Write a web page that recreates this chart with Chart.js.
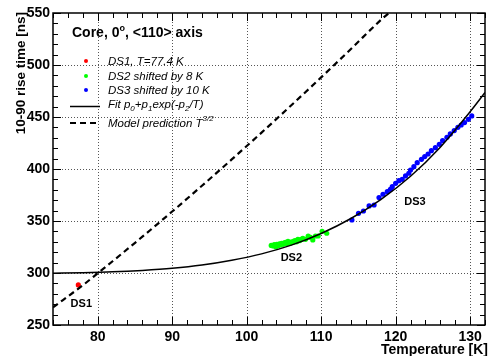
<!DOCTYPE html>
<html><head><meta charset="utf-8">
<script src="https://cdn.jsdelivr.net/npm/chart.js@4.4.1/dist/chart.umd.min.js"></script>
<style>html,body{margin:0;padding:0;background:#fff}#wrap{width:489px;height:356px}</style>
</head><body><div id="wrap"><canvas id="c" width="489" height="356"></canvas></div>
<script>
// ---- data ----
const ds1T = [77.4];
const ds1V = [288.5];
const ds2T = [103.3,103.55,103.7,103.91,104.05,104.22,104.4,104.53,104.7,104.88,105.05,105.24,105.4,105.55,105.7,105.86,106.05,106.22,106.4,106.57,106.7,106.88,107.05,107.2,107.4,107.55,107.9,108.26,108.57,108.88,109.24,109.6,110.13,110.75];
const ds2V = [326.5,326.0,327.2,325.3,327.5,326.3,328.0,327.0,328.5,327.6,329.0,329.5,328.2,330.5,329.0,328.6,330.0,329.5,330.8,331.1,330.0,332.4,331.0,331.8,332.5,333.4,332.4,335.6,334.3,331.8,335.6,335.6,340.1,338.2];
const ds3T = [114.13,115.02,115.68,116.44,117.11,117.77,118.31,118.88,119.3,119.55,120.0,120.44,120.88,121.33,121.77,122.0,122.45,122.9,123.47,123.91,124.36,124.8,125.34,125.87,126.31,126.89,127.34,127.87,128.36,128.8,129.25,129.78,130.22];
const ds3V = [351.0,357.4,359.6,364.5,365.4,372.5,375.7,378.2,380.5,383.0,386.2,388.8,390.1,393.3,395.9,399.0,402.2,406.1,409.3,411.9,414.4,417.6,420.5,423.7,427.3,430.5,433.7,436.9,440.1,442.3,444.6,447.8,451.0];
const fitT = [74,78,82,86,90,94,98,102,106,110,114,118,122,126,130,132];
const fitV = [299.8,300.3,301.1,302.5,304.5,307.6,312.2,318.4,326.8,338.0,352.4,370.5,393.0,421.0,455.0,473.5];
const modelT = [74,78,80,82,86,90,94,98,102,106,110,114,118,119.1];
const modelV = [267,288.2,299.7,311.3,334.9,359.1,383.9,409.2,435.0,461.3,488.1,515.4,543.2,550];
const labelNames = ["DS1","DS2","DS3"];
const labelT = [77.8,106.0,122.6];
const labelV = [270,314.4,368];
const xTickValues = [80,90,100,110,120,130];
const yTickValues = [250,300,350,400,450,500,550];
const xTitle = "Temperature [K]";
const yTitle = "10-90 rise time [ns]";
const header = ["Core, 0", "o", ", <110> axis"];
const legendNames = ["DS1, T=77.4 K","DS2 shifted by 8 K","DS3 shifted by 10 K"];

const zip = (a,b)=>a.map((v,i)=>({x:v,y:b[i]}));
const FONT = '"Liberation Sans", Arial, sans-serif';

function rich(ctx, x, y, parts){
  let cx = x;
  for (const p of parts){
    ctx.font = p.font;
    ctx.fillText(p.t, cx, y + (p.dy||0));
    cx += ctx.measureText(p.t).width;
  }
}

const gridPlugin = {
  id:'gridPlugin',
  beforeDatasetsDraw(chart){
    const {ctx, chartArea:a, scales:{x,y}} = chart;
    ctx.save();
    ctx.strokeStyle = '#555';
    ctx.lineWidth = 1;
    ctx.setLineDash([1,2]);
    ctx.beginPath();
    xTickValues.forEach(t=>{
      const px = Math.round(x.getPixelForValue(t)) + 0.5;
      ctx.moveTo(px, a.top); ctx.lineTo(px, a.bottom);
    });
    yTickValues.forEach(v=>{
      if (v === 250 || v === 550) return;
      const py = Math.round(y.getPixelForValue(v)) + 0.5;
      ctx.moveTo(a.left, py); ctx.lineTo(a.right, py);
    });
    ctx.stroke();
    ctx.restore();
  }
};

const overlay = {
  id:'overlay',
  afterDraw(chart){
    const {ctx, chartArea:a, scales:{x,y}} = chart;
    ctx.save();
    ctx.strokeStyle = '#000';
    ctx.lineWidth = 1;
    ctx.beginPath();
    for (let t = 74; t <= 132; t += 2){
      const px = Math.round(x.getPixelForValue(t)) + 0.5;
      const L = (t % 10 === 0) ? 8 : 5;
      ctx.moveTo(px, a.bottom); ctx.lineTo(px, a.bottom - L);
      ctx.moveTo(px, a.top); ctx.lineTo(px, a.top + L);
    }
    for (let v = 250; v <= 550; v += 10){
      const py = Math.round(y.getPixelForValue(v)) + 0.5;
      const L = (v % 50 === 0) ? 8 : 5;
      ctx.moveTo(a.left, py); ctx.lineTo(a.left + L, py);
      ctx.moveTo(a.right, py); ctx.lineTo(a.right - L, py);
    }
    ctx.stroke();
    ctx.lineWidth = 1.5;
    ctx.strokeRect(a.left, a.top, a.right - a.left, a.bottom - a.top);

    ctx.fillStyle = '#000';
    // axis titles
    ctx.font = 'bold 14px ' + FONT;
    ctx.textAlign = 'right'; ctx.textBaseline = 'alphabetic';
    ctx.fillText(xTitle, 488, 354);
    ctx.save();
    ctx.font = 'bold 13.5px ' + FONT;
    ctx.translate(25, 12);
    ctx.rotate(-Math.PI/2);
    ctx.fillText(yTitle, 0, 0);
    ctx.restore();

    // DS labels
    ctx.font = 'bold 11px ' + FONT;
    ctx.textAlign = 'center'; ctx.textBaseline = 'middle';
    labelNames.forEach((n,i)=>{
      ctx.fillText(n, x.getPixelForValue(labelT[i]), y.getPixelForValue(labelV[i]));
    });

    // legend
    ctx.textAlign = 'left'; ctx.textBaseline = 'alphabetic';
    rich(ctx, 72, 37, [
      {t:header[0], font:'bold 14px '+FONT},
      {t:header[1], font:'bold 9px '+FONT, dy:-6},
      {t:header[2], font:'bold 14px '+FONT}
    ]);
    const it = 'italic 11.5px ' + FONT;
    const sub = 'italic 8px ' + FONT;
    const cols = ['#ff0000','#00ff00','#0000ff'];
    const rowsY = [61,76,90];
    legendNames.forEach((n,i)=>{
      ctx.fillStyle = cols[i];
      ctx.beginPath(); ctx.arc(86, rowsY[i], 2, 0, Math.PI*2); ctx.fill();
      ctx.fillStyle = '#000';
      ctx.font = it;
      ctx.fillText(n, 108, rowsY[i] + 4);
    });
    // fit row
    ctx.strokeStyle = '#000';
    ctx.lineWidth = 1.5; ctx.setLineDash([]);
    ctx.beginPath(); ctx.moveTo(70, 106.5); ctx.lineTo(100, 106.5); ctx.stroke();
    rich(ctx, 108, 108, [
      {t:'Fit p', font:it},{t:'0', font:sub, dy:3},
      {t:'+p', font:it},{t:'1', font:sub, dy:3},
      {t:'exp(-p', font:it},{t:'2', font:sub, dy:3},
      {t:'/T)', font:it}
    ]);
    // model row
    ctx.lineWidth = 2; ctx.setLineDash([6,4]);
    ctx.beginPath(); ctx.moveTo(70, 123); ctx.lineTo(100, 123); ctx.stroke();
    ctx.setLineDash([]);
    rich(ctx, 108, 127, [
      {t:'Model prediction T', font:it},
      {t:'3/2', font:sub, dy:-6}
    ]);
    ctx.restore();
  }
};

new Chart(document.getElementById('c'), {
  type:'scatter',
  data:{datasets:[
    {label:'model', type:'line', data:zip(modelT, modelV), borderColor:'#000', borderWidth:2.2, borderDash:[6,4], pointRadius:0, fill:false, cubicInterpolationMode:'monotone'},
    {label:'fit', type:'line', data:zip(fitT, fitV), borderColor:'#000', borderWidth:1.5, pointRadius:0, fill:false, cubicInterpolationMode:'monotone'},
    {label:'DS1', data:zip(ds1T, ds1V), backgroundColor:'#ff0000', borderWidth:0, pointRadius:2.6},
    {label:'DS2', data:zip(ds2T, ds2V), backgroundColor:'#00ff00', borderWidth:0, pointRadius:2.6},
    {label:'DS3', data:zip(ds3T, ds3V), backgroundColor:'#0000ff', borderWidth:0, pointRadius:2.6}
  ]},
  options:{
    responsive:false, animation:false, devicePixelRatio:1,
    layout:{padding:{top:13, right:2, left:0, bottom:0}},
    plugins:{legend:{display:false}, tooltip:{enabled:false}},
    scales:{
      x:{type:'linear', min:74, max:132,
        afterFit(s){ s.height = 31; },
        afterBuildTicks(s){ s.ticks = xTickValues.map(v=>({value:v})); },
        ticks:{font:{family:FONT, size:14, weight:'bold'}, color:'#000', padding:4, maxRotation:0, autoSkip:false},
        grid:{display:false, drawTicks:false},
        border:{display:false}
      },
      y:{type:'linear', min:250, max:550,
        afterFit(s){ s.width = 53; },
        afterBuildTicks(s){ s.ticks = yTickValues.map(v=>({value:v})); },
        ticks:{font:{family:FONT, size:14, weight:'bold'}, color:'#000', padding:3, autoSkip:false},
        grid:{display:false, drawTicks:false},
        border:{display:false}
      }
    }
  },
  plugins:[gridPlugin, overlay]
});
</script>
</body></html>
